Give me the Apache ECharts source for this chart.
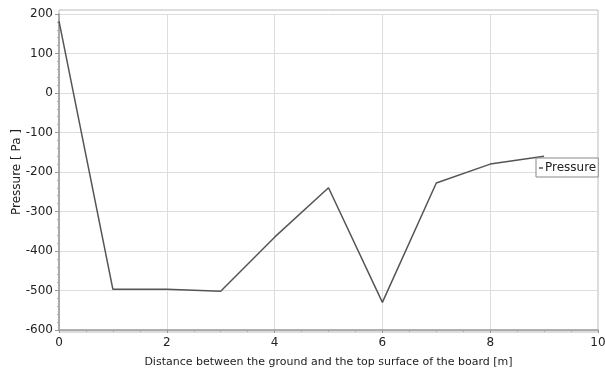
<!DOCTYPE html>
<html><head><meta charset="utf-8">
<script src="https://cdn.jsdelivr.net/npm/echarts@6/dist/echarts.min.js"></script>
<style>html,body{margin:0;padding:0;background:#fff}#c{width:605px;height:373px}</style>
</head><body><div id="c"></div>
<script>
const xValues = [0, 1, 2, 3, 4, 5, 6, 7, 8, 9];
const pressure = [182, -497, -497, -502, -365, -240, -530, -228, -180, -160];
const seriesName = 'Pressure';
const xTitle = 'Distance between the ground and the top surface of the board [m]';
const yTitle = 'Pressure [ Pa ]';

const chart = echarts.init(document.getElementById('c'));
const font = 'DejaVu Sans';
chart.setOption({
  animation: false,
  backgroundColor: '#fff',
  grid: { left: 59, right: 7, top: 14, bottom: 43, show: false, containLabel: false, outerBoundsMode: 'none' },
  graphic: [{
    type: 'rect', shape: { x: 59, y: 10, width: 539, height: 322 },
    style: { fill: 'none', stroke: '#bbb', lineWidth: 1 }, z: 0
  }],
  legend: {
    data: [seriesName], left: 536, top: 158, orient: 'vertical',
    icon: 'rect', itemWidth: 4, itemHeight: 1.5, itemGap: 2,
    borderColor: '#888', borderWidth: 1, padding: [4, 2, 3, 3],
    backgroundColor: '#fff',
    textStyle: { fontFamily: font, fontSize: 12, color: '#222', padding: [0, 0, 0, -3] }
  },
  xAxis: {
    type: 'value', min: 0, max: 10, interval: 2,
    name: xTitle, nameLocation: 'middle', nameGap: 27, nameMoveOverlap: false,
    nameTextStyle: { fontFamily: font, fontSize: 11, color: '#222' },
    axisLine: { show: true, onZero: false, lineStyle: { color: '#999', width: 1.5 } },
    axisTick: { show: true, length: 3, lineStyle: { color: '#999' } },
    minorTick: { show: true, splitNumber: 4, length: 2, lineStyle: { color: '#aaa' } },
    axisLabel: { fontFamily: font, fontSize: 12, color: '#222', margin: 7 },
    splitLine: { show: true, lineStyle: { color: '#ddd', width: 1 } }
  },
  yAxis: {
    type: 'value', min: -600, max: 200, interval: 100,
    name: yTitle, nameLocation: 'middle', nameGap: 36, nameMoveOverlap: false,
    nameTextStyle: { fontFamily: font, fontSize: 12, color: '#222' },
    axisLine: { show: true, lineStyle: { color: '#999', width: 1.5 } },
    axisTick: { show: true, length: 4, lineStyle: { color: '#999' } },
    minorTick: { show: true, splitNumber: 5, length: 2, lineStyle: { color: '#aaa' } },
    axisLabel: { fontFamily: font, fontSize: 12, color: '#222', margin: 6 },
    splitLine: { show: true, lineStyle: { color: '#ddd', width: 1 } }
  },
  series: [{
    name: seriesName, type: 'line',
    data: xValues.map((x, i) => [x, pressure[i]]),
    showSymbol: false, symbol: 'none',
    lineStyle: { color: '#555', width: 1.5 },
    itemStyle: { color: '#555' }
  }]
});
</script></body></html>
